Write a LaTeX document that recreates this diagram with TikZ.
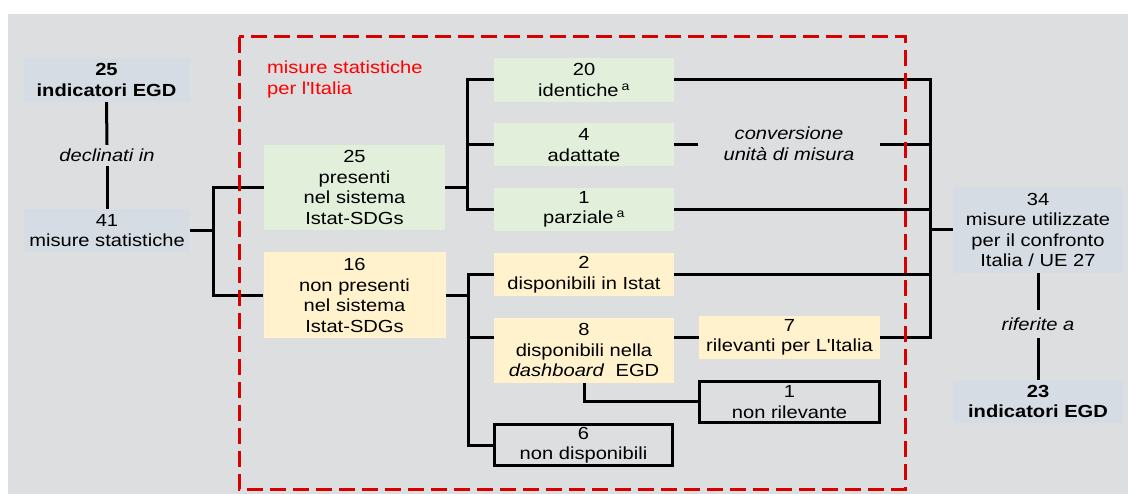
\documentclass[tikz,border=0pt]{standalone}
\usepackage{fontspec}
\setmainfont{Liberation Sans}[FakeStretch=1.15]
\usetikzlibrary{positioning}
\definecolor{bggray}{RGB}{221,222,224}
\definecolor{boxblue}{RGB}{214,220,228}
\definecolor{boxgreen}{RGB}{226,239,218}
\definecolor{boxyellow}{RGB}{255,242,204}
\definecolor{framered}{RGB}{214,0,0}
\definecolor{titlered}{RGB}{255,0,0}

\begin{document}
\begin{tikzpicture}[
    x=1pt, y=-1pt,
    font=\fontsize{17.5}{20.5}\selectfont,
    box/.style={rectangle, inner sep=0pt, minimum width=180pt, minimum height=44pt, align=center},
    bluebox/.style={box, fill=boxblue, minimum width=166pt},
    greenbox/.style={box, fill=boxgreen},
    yellowbox/.style={box, fill=boxyellow},
    emptybox/.style={box, draw, line width=3pt, minimum width=178pt, minimum height=41pt},
    relabel/.style={inner sep=0pt, align=center, font=\fontsize{17.5}{20.5}\selectfont\itshape},
    link/.style={line width=3pt},
    frame/.style={draw=framered, line width=3pt, dash pattern=on 16pt off 7pt}
]

% Background
\useasboundingbox (0,0) rectangle (1128,494);
\fill[white] (0,0) rectangle (1128,494);
\fill[bggray] (8,14) rectangle (1128,494);

% Nodes
\node[bluebox, font=\fontsize{17.5}{20.5}\selectfont\bfseries] (egdA) at (106.5,80) {25\\indicatori EGD};
\node[relabel, minimum height=21pt] (declin) at (107,155.5) {declinati in};
\node[bluebox, minimum height=43pt] (misure41) at (107,230.5) {41\\misure statistiche};

\node[anchor=north west, inner sep=0pt, align=left, text=titlered] (redtitle) at (267,61) {misure statistiche\\per l\textquotesingle Italia};

\node[greenbox, minimum width=181pt, minimum height=85pt] (pres25) at (354.5,187.5) {25\\presenti\\nel sistema\\Istat-SDGs};
\node[yellowbox, minimum width=182pt, minimum height=86pt, below=22pt of pres25] (nonpres16) {16\\non presenti\\nel sistema\\Istat-SDGs};

\node[greenbox] (id20) at (584,80) {20\\identiche\,\textsuperscript{a}};
\node[greenbox, minimum height=43pt, below=21pt of id20] (ad4) {4\\adattate};
\node[greenbox, minimum height=43pt, below=21pt of ad4] (par1) {1\\parziale\,\textsuperscript{a}};
\node[yellowbox, minimum height=43pt, below=22pt of par1] (disp2) {2\\disponibili in Istat};
\node[yellowbox, minimum height=65pt, below=21pt of disp2] (dash8) {8\\disponibili nella\\\textit{dashboard}\ \ EGD};
\node[emptybox] (nondisp6) at (583.5,445) {6\\non disponibili};

\node[relabel, minimum width=182pt] (conv) at (789,144) {conversione\\unità di misura};
\node[yellowbox, minimum width=181pt, minimum height=43pt] (ril7) at (789.5,337.5) {7\\rilevanti per L\textquotesingle Italia};
\node[emptybox, minimum width=180pt] (nonril1) at (789.5,402) {1\\non rilevante};

\node[bluebox, minimum width=170pt, minimum height=86pt] (mis34) at (1038,230) {34\\misure utilizzate\\per il confronto\\Italia / UE 27};
\node[relabel, minimum height=28pt] (rifer) at (1038,324) {riferite a};
\node[bluebox, minimum width=170pt, minimum height=43pt, font=\fontsize{17.5}{20.5}\selectfont\bfseries] (egdB) at (1038,401.5) {23\\indicatori EGD};

\coordinate (merge) at (930,230);

% Connectors
\draw[link] (egdA.south) -- (declin.north);
\draw[link] (declin.south) -- (misure41.north);
\draw[link] (misure41.east) -- ++(24,0);
\draw[link] (pres25.west) -- ++(-50,0) |- (nonpres16.west);

\draw[link] (pres25.east) -- ++(23,0);
\draw[link] (id20.west) -- ++(-26,0) |- (par1.west);
\draw[link] (ad4.west) -- ++(-26,0);

\draw[link] (nonpres16.east) -- ++(23,0);
\draw[link] (disp2.west) -- ++(-25,0) |- (nondisp6.west);
\draw[link] (dash8.west |- ril7.west) -- ++(-25,0);
\draw[link] (dash8.east |- ril7.west) -- (ril7.west);
\draw[link] (dash8.south) |- (nonril1.west);

\draw[link] (id20.east) -| (merge |- ril7.east) -- (ril7.east);
\draw[link] (ad4.east) -- (ad4.east -| conv.west);
\draw[link] (conv.east |- ad4.east) -- (ad4.east -| merge);
\draw[link] (par1.east) -- (par1.east -| merge);
\draw[link] (disp2.east) -- (disp2.east -| merge);
\draw[link] (merge) -- (mis34.west);
\draw[link] (mis34.south) -- (rifer.north);
\draw[link] (rifer.south) -- (egdB.north);

% Frame
\draw[frame] (239,37) rectangle (905,489);

\end{tikzpicture}
\end{document}
